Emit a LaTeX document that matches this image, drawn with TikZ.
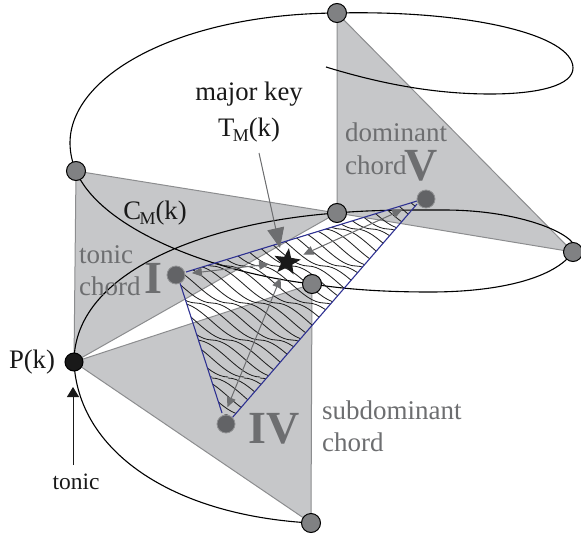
\documentclass[tikz,border=0pt]{standalone}
\usepackage{fontspec}
\setmainfont{Liberation Serif}
\usetikzlibrary{arrows.meta,shapes.geometric}
\definecolor{triFill}{HTML}{C6C7C9}
\definecolor{triEdge}{HTML}{8C8D8F}
\definecolor{nodeGray}{HTML}{808183}
\definecolor{dotGray}{HTML}{626366}
\definecolor{textGray}{HTML}{6D6E70}
\definecolor{hullBlue}{HTML}{2E3192}
\newcommand{\fs}[1]{\fontsize{#1}{#1}\selectfont}
\newcommand{\subM}{\kern-1.5pt\raisebox{-5pt}{\fs{18}M}}
\tikzset{
  triangle/.style={fill=triFill,draw=triEdge,line width=1pt,line join=miter},
  helix/.style={draw=black,line width=1.1pt},
  vertex/.style={circle,draw=black,fill=nodeGray,line width=1pt,minimum size=19pt,inner sep=0pt},
  tonicvertex/.style={circle,draw=black,fill=black!90,line width=1pt,minimum size=18pt,inner sep=0pt},
  chorddot/.style={circle,draw=dotGray!70,fill=dotGray,line width=.8pt,minimum size=18pt,inner sep=0pt},
  hull/.style={draw=hullBlue,line width=1.1pt},
  hatchline/.style={draw=black!90,line width=.8pt},
  pointer/.style={draw=textGray,line width=1pt,{Triangle[length=10pt,width=9pt]}-{Triangle[length=10pt,width=9pt]}},
  bigpointer/.style={draw=textGray,fill=textGray,line width=1pt,-{Triangle[length=20pt,width=17pt]}},
  blacktext/.style={inner sep=0pt,text=black!90,font=\fs{26.7}},
  graytext/.style={inner sep=0pt,text=textGray,font=\fs{27}},
  numeral/.style={inner sep=0pt,text=textGray,font=\fs{46}\bfseries},
}
\begin{document}
\begin{tikzpicture}[x=1pt,y=-1pt]
\useasboundingbox (0,0) rectangle (581,535);
% positions
\coordinate (top) at (337,13);
\coordinate (left) at (76,171);
\coordinate (mid) at (337,213);
\coordinate (right) at (573,252);
\coordinate (low) at (312,284);
\coordinate (tonic) at (74,362);
\coordinate (bottom) at (311,523);
\coordinate (start) at (326,67);
\coordinate (hI) at (186,272);
\coordinate (hV) at (417,201);
\coordinate (hVb) at (417,204);
\coordinate (hIV) at (232,418);
\coordinate (hIVb) at (222,413);
\coordinate (hIb) at (180,283);
% triangles
\draw[triangle] (top) -- (mid) -- (right) -- cycle;
\draw[triangle] (left) -- (mid) -- (tonic) -- cycle;
\draw[triangle] (tonic) -- (low) -- (bottom) -- cycle;
% helix
\draw[helix] (start) .. controls (375,82) and (430,94) .. (490,94)
  .. controls (540,94) and (573,85) .. (573,68)
  .. controls (573,35) and (470,10) .. (top)
  .. controls (180,14) and (70,75) .. (70,143)
  .. controls (70,152) and (72,162) .. (left)
  .. controls (100,228) and (210,272) .. (low)
  .. controls (350,290) and (390,292) .. (430,292)
  .. controls (500,292) and (555,278) .. (right)
  .. controls (586,240) and (530,210) .. (444,210)
  .. controls (400,210) and (370,210) .. (mid)
  .. controls (210,222) and (74,270) .. (tonic)
  .. controls (78,450) and (170,515) .. (bottom);
% hatching
\begin{scope}
\clip (hI) -- (hV) -- (hVb) -- (hIV) -- (hIVb) -- (hIb) -- cycle;
\foreach \y in {192,229,266,303,340,378}
  \foreach \x in {-60,-44,...,420}
    \draw[hatchline] (\x,\y) .. controls ({\x+22},\y) and ({\x+42},{\y+37}) .. ({\x+64},{\y+37});
\end{scope}
\draw[hull] (hI) -- (hV);
\draw[hull] (hVb) -- (hIV);
\draw[hull] (hIb) -- (hIVb);
% vertices
\node[vertex] (ntop) at (top) {};
\node[vertex] (nleft) at (left) {};
\node[vertex] (nmid) at (mid) {};
\node[vertex] (nright) at (right) {};
\node[vertex] (nlow) at (low) {};
\node[vertex] (nbottom) at (bottom) {};
\node[tonicvertex] (ntonic) at (tonic) {};
% chord points and key
\node[chorddot] (dotI) at (176,275) {};
\node[chorddot] (dotV) at (426,199) {};
\node[chorddot] (dotIV) at (226,424) {};
\coordinate (aimIV) at (221,423);
\node[star,star points=5,star point ratio=2.4,fill=black!90,minimum size=28pt,inner sep=0pt,rotate=-8] (key) at (287,262) {};
\draw[pointer,shorten <=16pt,shorten >=18pt] (dotI.center) -- (key.center);
\draw[pointer,shorten <=26pt,shorten >=18pt] (dotV.center) -- (key.center);
\draw[pointer,shorten <=17pt,shorten >=17pt] (aimIV) -- (key.center);
% labels
\node[blacktext] (major) at (249,94) {major key};
\node[blacktext] (tm) at (249,130) {T\subM(k)};
\node[blacktext] (cm) at (155,213) {C\subM(k)};
\node[blacktext] (pk) at (32,362) {P(k)};
\node[inner sep=0pt,text=black!90,font=\fs{23.5}] (ton) at (76,482) {tonic};
\coordinate (tmfoot) at (259,153);
\coordinate (keytop) at (280,248);
\draw[bigpointer] (tmfoot) -- (keytop);
\coordinate (tonfoot) at (73,465);
\coordinate (tontip) at (73,387);
\draw[draw=black!90,line width=1pt,-{Triangle[length=10pt,width=12pt]}] (tonfoot) -- (tontip);
\node[graytext,anchor=base west] (dom) at (345,141) {dominant};
\node[graytext,anchor=base west] (domc) at (345,174) {chord};
\node[numeral,anchor=base] (numV) at (421.5,180) {V};
\node[graytext,anchor=base west] (tc) at (79,263) {tonic};
\node[graytext,anchor=base west] (tcc) at (79,295) {chord};
\node[numeral,anchor=base] (numI) at (153.5,293) {I};
\node[numeral,anchor=base] (numIV) at (274,443) {IV};
\node[graytext,anchor=base west] (sub) at (322,419) {subdominant};
\node[graytext,anchor=base west] (subc) at (322,451) {chord};
\end{tikzpicture}
\end{document}
